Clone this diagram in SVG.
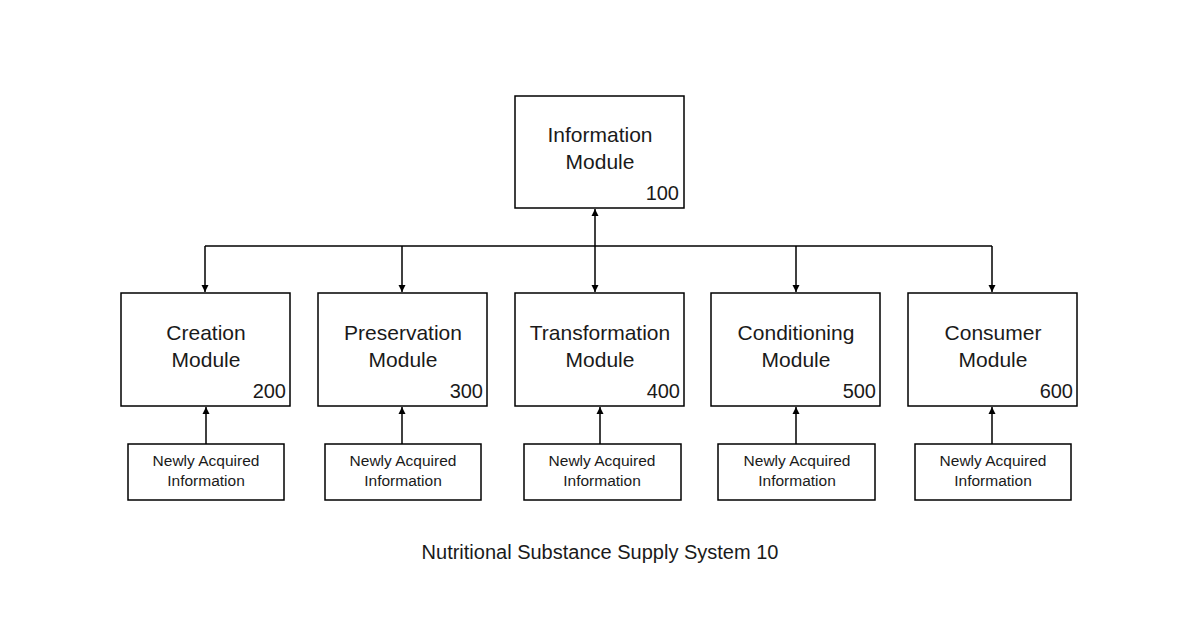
<svg xmlns="http://www.w3.org/2000/svg" width="1200" height="630" viewBox="0 0 1200 630">
<defs>
<marker id="ah" viewBox="0 0 10 10" refX="10" refY="5" markerWidth="7" markerHeight="9" markerUnits="userSpaceOnUse" orient="auto-start-reverse"><path d="M0,0 L10,5 L0,10 z" fill="#000"/></marker>
<style>
rect{fill:#fff;stroke:#000;stroke-width:1.5}
text{font-family:"Liberation Sans",Arial,sans-serif;fill:#1a1a1a}
.t{font-size:21px;text-anchor:middle}
.n{font-size:20px;text-anchor:end}
.s{font-size:15.5px;text-anchor:middle}
line,path.c{stroke:#000;stroke-width:1.5;fill:none}
</style>
</defs>
<rect width="1200" height="630" style="fill:#fff;stroke:none"/>
<g id="connectors">
<line x1="205" y1="246" x2="992" y2="246"/>
<line x1="205" y1="246" x2="205" y2="292" marker-end="url(#ah)"/>
<line x1="402" y1="246" x2="402" y2="292" marker-end="url(#ah)"/>
<line x1="595" y1="209" x2="595" y2="292" marker-start="url(#ah)" marker-end="url(#ah)"/>
<line x1="796" y1="246" x2="796" y2="292" marker-end="url(#ah)"/>
<line x1="992" y1="246" x2="992" y2="292" marker-end="url(#ah)"/>
<line x1="206" y1="444" x2="206" y2="407" marker-end="url(#ah)"/>
<line x1="402" y1="444" x2="402" y2="407" marker-end="url(#ah)"/>
<line x1="600" y1="444" x2="600" y2="407" marker-end="url(#ah)"/>
<line x1="796" y1="444" x2="796" y2="407" marker-end="url(#ah)"/>
<line x1="992" y1="444" x2="992" y2="407" marker-end="url(#ah)"/>
</g>
<g id="info"><rect x="515" y="96" width="169" height="112"/><text class="t" x="600" y="142">Information</text><text class="t" x="600" y="169">Module</text><text class="n" x="679" y="200">100</text></g>
<g id="m200"><rect x="121" y="293" width="169" height="113"/><text class="t" x="206" y="340">Creation</text><text class="t" x="206" y="367">Module</text><text class="n" x="286" y="398">200</text></g>
<g id="m300"><rect x="318" y="293" width="169" height="113"/><text class="t" x="403" y="340">Preservation</text><text class="t" x="403" y="367">Module</text><text class="n" x="483" y="398">300</text></g>
<g id="m400"><rect x="515" y="293" width="169" height="113"/><text class="t" x="600" y="340">Transformation</text><text class="t" x="600" y="367">Module</text><text class="n" x="680" y="398">400</text></g>
<g id="m500"><rect x="711" y="293" width="169" height="113"/><text class="t" x="796" y="340">Conditioning</text><text class="t" x="796" y="367">Module</text><text class="n" x="876" y="398">500</text></g>
<g id="m600"><rect x="908" y="293" width="169" height="113"/><text class="t" x="993" y="340">Consumer</text><text class="t" x="993" y="367">Module</text><text class="n" x="1073" y="398">600</text></g>
<g id="n1"><rect x="128" y="444" width="156" height="56"/><text class="s" x="206" y="466">Newly Acquired</text><text class="s" x="206" y="486">Information</text></g>
<g id="n2"><rect x="325" y="444" width="156" height="56"/><text class="s" x="403" y="466">Newly Acquired</text><text class="s" x="403" y="486">Information</text></g>
<g id="n3"><rect x="524" y="444" width="157" height="56"/><text class="s" x="602" y="466">Newly Acquired</text><text class="s" x="602" y="486">Information</text></g>
<g id="n4"><rect x="718" y="444" width="157" height="56"/><text class="s" x="797" y="466">Newly Acquired</text><text class="s" x="797" y="486">Information</text></g>
<g id="n5"><rect x="915" y="444" width="156" height="56"/><text class="s" x="993" y="466">Newly Acquired</text><text class="s" x="993" y="486">Information</text></g>
<text x="600" y="559" style="font-size:20px;text-anchor:middle">Nutritional Substance Supply System   10</text>
</svg>
